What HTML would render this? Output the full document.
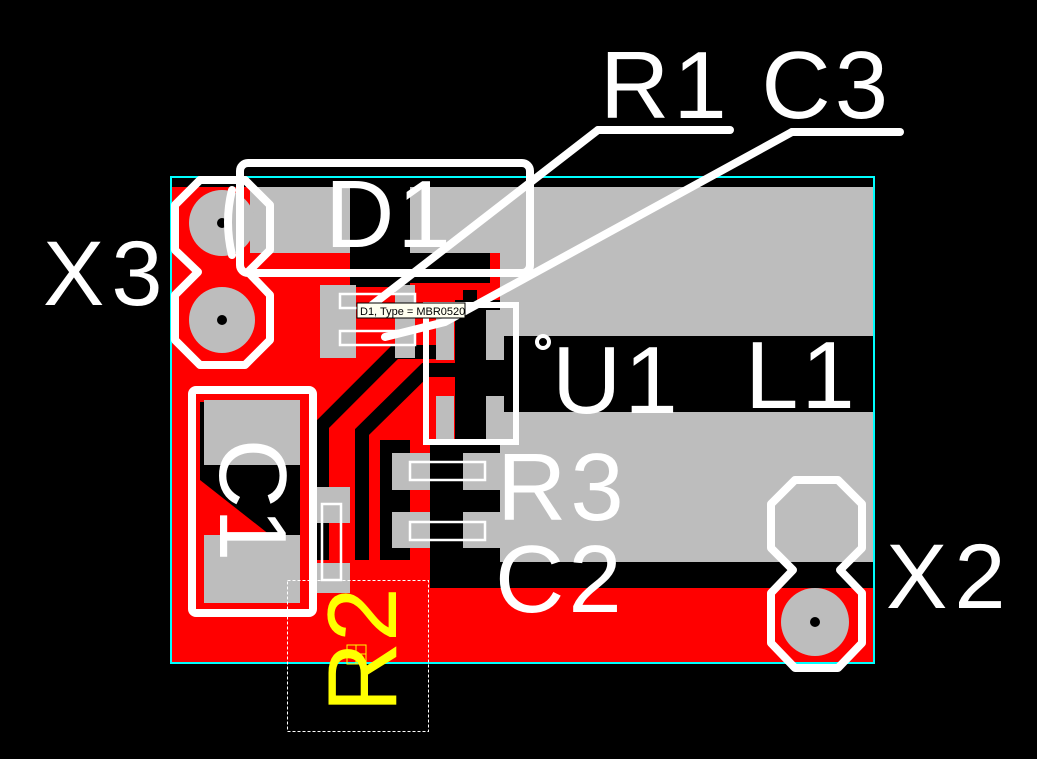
<!DOCTYPE html>
<html><head><meta charset="utf-8"><style>
html,body{margin:0;padding:0;background:#000;}
svg{display:block;}
text{font-family:"Liberation Sans",sans-serif;}
</style></head><body>
<svg width="1037" height="759" viewBox="0 0 1037 759" xmlns="http://www.w3.org/2000/svg">
<rect width="1037" height="759" fill="#000"/>
<rect x="172" y="253" width="328" height="410" fill="#ff0000"/>
<rect x="172" y="187" width="95" height="180" fill="#ff0000"/>
<rect x="265" y="253" width="235" height="20" fill="#ff0000"/>
<rect x="430" y="588" width="443" height="75" fill="#ff0000"/>
<rect x="350" y="187" width="60" height="100" fill="#000"/>
<rect x="410" y="253" width="80" height="30" fill="#000"/>
<polyline points="322,560 322,425 395,352 450,352" fill="none" stroke="#000" stroke-width="14"/>
<polyline points="362,560 362,432 425,370 470,370 470,290" fill="none" stroke="#000" stroke-width="14"/>
<rect x="380" y="440" width="30" height="120" fill="#000"/>
<rect x="430" y="440" width="70" height="148" fill="#000"/>
<rect x="455" y="300" width="45" height="140" fill="#000"/>
<polygon points="200,402 300,402 300,535 270,535 200,480" fill="#000"/>
<rect x="500" y="336" width="373" height="76" fill="#000"/>
<rect x="500" y="562" width="373" height="26" fill="#000"/>
<g fill="#bdbdbd">
<rect x="250" y="187" width="100" height="66"/>
<rect x="410" y="187" width="463" height="66"/>
<rect x="500" y="187" width="373" height="149"/>
<rect x="500" y="412" width="373" height="150"/>
<circle cx="222" cy="223" r="33"/>
<circle cx="222" cy="320" r="33"/>
<circle cx="815" cy="622" r="34"/>
<rect x="320" y="285" width="36" height="73"/>
<rect x="395" y="285" width="20" height="73"/>
<rect x="436" y="310" width="18" height="50"/>
<rect x="486" y="310" width="18" height="50"/>
<rect x="436" y="396" width="18" height="46"/>
<rect x="486" y="396" width="18" height="46"/>
<rect x="204" y="400" width="96" height="65"/>
<rect x="204" y="535" width="96" height="68"/>
<rect x="316" y="487" width="34" height="36"/>
<rect x="316" y="563" width="34" height="30"/>
<rect x="392" y="453" width="38" height="37"/>
<rect x="463" y="453" width="37" height="37"/>
<rect x="392" y="512" width="38" height="36"/>
<rect x="463" y="512" width="37" height="36"/>
</g>
<g fill="#000"><circle cx="222" cy="223" r="5"/><circle cx="222" cy="320" r="5"/><circle cx="815" cy="622" r="5"/></g>
<rect x="171" y="177" width="703" height="486" fill="none" stroke="#00ffff" stroke-width="2"/>
<g fill="none" stroke="#fff" stroke-width="8" stroke-linejoin="round" stroke-linecap="round">
<polygon points="200,180 245,180 270,205 270,250 248,272 270,295 270,340 245,365 200,365 175,340 175,295 198,272 175,250 175,205"/>
<polygon points="795,480 838,480 862,504 862,548 840,570 862,593 862,643 838,668 795,668 771,643 771,593 793,570 771,548 771,504"/>
<rect x="240" y="163" width="290" height="110" rx="8"/>
<path d="M232 190 Q224 222 232 255"/>
<rect x="192" y="390" width="121" height="223" rx="4"/>
<polyline points="598,130 730,130"/>
<polyline points="598,130 372,305"/>
<polyline points="792,132 900,132"/>
<polyline points="792,132 445,322 385,337"/>
</g>
<rect x="426" y="305" width="90" height="137" fill="none" stroke="#fff" stroke-width="6"/>
<circle cx="543" cy="342" r="6" fill="none" stroke="#fff" stroke-width="4"/>
<g fill="none" stroke="#fff" stroke-width="2.5">
<rect x="340" y="294" width="75" height="14"/>
<rect x="340" y="331" width="75" height="14"/>
<rect x="410" y="462" width="75" height="18"/>
<rect x="410" y="522" width="75" height="18"/>
<rect x="322" y="504" width="19" height="76"/>
</g>
<rect x="287.5" y="580.5" width="141" height="151" fill="none" stroke="#fff" stroke-width="1" stroke-dasharray="3,2"/>
<rect x="357" y="303" width="108" height="15" fill="#fffff0" stroke="#000" stroke-width="1"/>
<text x="360" y="315" font-size="11" fill="#000">D1, Type = MBR0520</text>
<g fill="#fff">
<text x="325" y="247" font-size="96" letter-spacing="3">D1</text>
<text x="43" y="305" font-size="92" letter-spacing="7">X3</text>
<text x="600" y="118" font-size="96" letter-spacing="4">R1 C3</text>
<text x="552" y="413" font-size="96" letter-spacing="3">U1</text>
<text x="745" y="408" font-size="96" letter-spacing="3">L1</text>
<text x="497" y="520" font-size="96" letter-spacing="4">R3</text>
<text x="495" y="612" font-size="96" letter-spacing="4">C2</text>
<text x="886" y="608" font-size="92" letter-spacing="7">X2</text>
<text transform="translate(220,500) rotate(90)" font-size="96" text-anchor="middle">C1</text>
</g>
<text transform="translate(396,650) rotate(-90)" font-size="98" fill="#ffff00" text-anchor="middle">R2</text>
<g fill="none" stroke="#ffff00" stroke-width="1"><rect x="347" y="645" width="19" height="19"/><line x1="356" y1="645" x2="356" y2="664"/><line x1="347" y1="654" x2="366" y2="654"/></g>
</svg>
</body></html>
